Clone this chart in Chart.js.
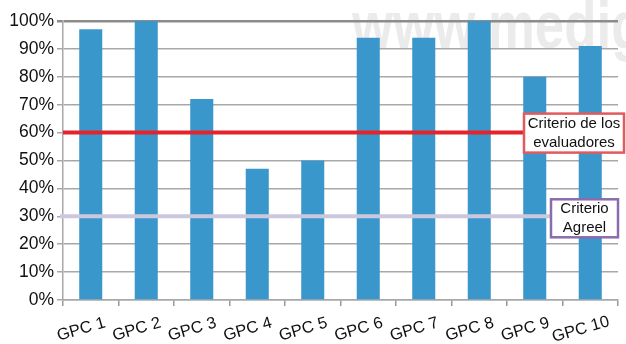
<!DOCTYPE html>
<html>
<head>
<meta charset="utf-8">
<script src="https://cdn.jsdelivr.net/npm/chart.js@4/dist/chart.umd.min.js"></script>
<style>
  html, body { margin: 0; padding: 0; background: #ffffff; }
  #wrap { width: 626px; height: 344px; }
</style>
</head>
<body>
<div id="wrap"><canvas id="c" width="626" height="344"></canvas></div>
<script>
// Cumplimiento por guía de práctica clínica (%)
const categories = ['GPC 1', 'GPC 2', 'GPC 3', 'GPC 4', 'GPC 5', 'GPC 6', 'GPC 7', 'GPC 8', 'GPC 9', 'GPC 10'];
const cumplimiento = [97, 100, 72, 47, 50, 94, 94, 100, 80, 91];

// Umbrales de referencia
const criterioEvaluadores = 60;
const criterioAgreel = 30;
const thresholdLabels = {
  evaluadores: ['Criterio de los', 'evaluadores'],
  agreel: ['Criterio', 'Agreel']
};

const yTicks = [0, 10, 20, 30, 40, 50, 60, 70, 80, 90, 100];
const watermarkText = 'www.medigraphic.org.mx';

const FONT = '"Liberation Sans", Arial, Helvetica, sans-serif';

const watermarkPlugin = {
  id: 'watermark',
  beforeDraw(chart) {
    const ctx = chart.ctx;
    ctx.save();
    ctx.translate(352, 48);
    ctx.scale(0.8, 1);
    ctx.font = 'bold 66px ' + FONT;
    ctx.fillStyle = '#ebebeb';
    ctx.textBaseline = 'alphabetic';
    ctx.textAlign = 'left';
    ctx.fillText(watermarkText, 0, 0);
    ctx.restore();
  }
};

const xLabelsPlugin = {
  id: 'xLabels',
  afterDraw(chart) {
    const ctx = chart.ctx;
    const xs = chart.scales.x;
    ctx.save();
    ctx.font = '16.5px ' + FONT;
    ctx.fillStyle = '#111111';
    ctx.textAlign = 'center';
    ctx.textBaseline = 'middle';
    categories.forEach((lab, i) => {
      const cx = xs.getPixelForValue(i) - 9.5;
      ctx.save();
      ctx.translate(cx, 329.5);
      ctx.rotate(-16 * Math.PI / 180);
      ctx.fillText(lab, 0, 0);
      ctx.restore();
    });
    ctx.restore();
  }
};

function drawBox(ctx, x, y, w, h, color, lines) {
  ctx.fillStyle = '#ffffff';
  ctx.fillRect(x, y, w, h);
  ctx.lineWidth = 2.5;
  ctx.strokeStyle = color;
  ctx.strokeRect(x, y, w, h);
  ctx.fillStyle = '#111111';
  ctx.font = '15px ' + FONT;
  ctx.textAlign = 'center';
  ctx.textBaseline = 'middle';
  const lh = 19;
  const cy = y + h / 2 - (lines.length - 1) * lh / 2;
  lines.forEach((t, i) => ctx.fillText(t, x + w / 2, cy + i * lh));
}

const thresholdPlugin = {
  id: 'thresholds',
  afterDatasetsDraw(chart) {
    const ctx = chart.ctx;
    const ys = chart.scales.y;
    const area = chart.chartArea;
    ctx.save();
    // línea del criterio de los evaluadores
    const yE = ys.getPixelForValue(criterioEvaluadores);
    ctx.strokeStyle = '#e3242c';
    ctx.lineWidth = 4;
    ctx.beginPath();
    ctx.moveTo(area.left, yE);
    ctx.lineTo(524, yE);
    ctx.stroke();
    drawBox(ctx, 524, yE - 19, 100, 39, '#e05a5e', thresholdLabels.evaluadores);

    // línea del criterio AGREE II
    const yA = ys.getPixelForValue(criterioAgreel);
    ctx.strokeStyle = '#cbc8dd';
    ctx.lineWidth = 4;
    ctx.beginPath();
    ctx.moveTo(area.left - 3, yA);
    ctx.lineTo(551, yA);
    ctx.stroke();
    drawBox(ctx, 551, yA - 17, 67, 38, '#8a6cae', thresholdLabels.agreel);
    ctx.restore();
  }
};

new Chart(document.getElementById('c'), {
  type: 'bar',
  data: {
    labels: categories,
    datasets: [{
      data: cumplimiento,
      backgroundColor: '#3a97cc',
      borderWidth: 0,
      barPercentage: 0.415,
      categoryPercentage: 1.0
    }]
  },
  options: {
    responsive: false,
    animation: false,
    devicePixelRatio: 1,
    layout: { padding: { left: 0, right: 8, top: 21, bottom: 0 } },
    plugins: {
      legend: { display: false },
      tooltip: { enabled: false }
    },
    scales: {
      x: {
        offset: true,
        grid: {
          offset: true,
          drawOnChartArea: false,
          drawTicks: true,
          tickLength: 6,
          color: '#999999',
          lineWidth: 1.5
        },
        border: { display: true, color: '#a8a8a8', width: 1.5 },
        ticks: { display: false },
        afterFit(scale) { scale.height = 44; }
      },
      y: {
        min: 0,
        max: 100,
        afterBuildTicks(scale) { scale.ticks = yTicks.map(v => ({ value: v })); },
        grid: {
          color: ctx => ctx.tick && ctx.tick.value === 100 ? '#8c8c8c' : '#a8a8a8',
          lineWidth: ctx => ctx.tick && ctx.tick.value === 100 ? 2.5 : 1.5,
          tickLength: 6
        },
        border: { display: true, color: '#a8a8a8', width: 1.5 },
        ticks: {
          callback: v => v + '%',
          color: '#111111',
          padding: 3,
          font: { family: FONT, size: 17.5 }
        },
        afterFit(scale) { scale.width = 63; }
      }
    }
  },
  plugins: [watermarkPlugin, thresholdPlugin, xLabelsPlugin]
});
</script>
</body>
</html>
